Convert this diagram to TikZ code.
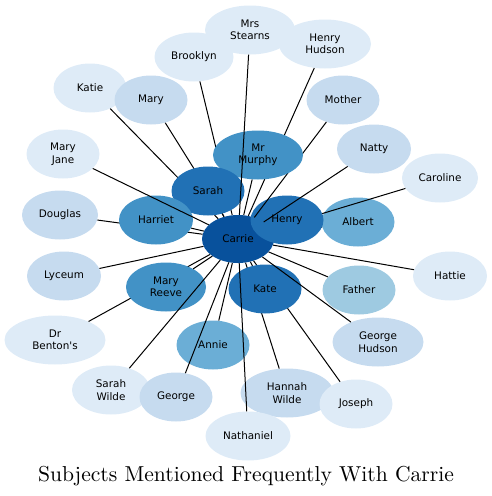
\documentclass[tikz,border=0pt]{standalone}
\usepackage{fontspec}
\newfontfamily\labelfont{DejaVu Sans}
\newfontfamily\titlefont{lmroman10-regular}[Extension=.otf]
\usetikzlibrary{shapes.geometric}

\definecolor{blA}{HTML}{DEEBF7}
\definecolor{blB}{HTML}{C6DBEF}
\definecolor{blC}{HTML}{9ECAE1}
\definecolor{blD}{HTML}{6BAED6}
\definecolor{blE}{HTML}{4292C6}
\definecolor{blF}{HTML}{2171B5}
\definecolor{blG}{HTML}{08519C}

\tikzset{
  subj/.style={ellipse, inner sep=0pt, minimum width=73pt, minimum height=49pt,
    align=center, font=\labelfont\fontsize{10.4}{12.5}\selectfont},
  link/.style={line width=1pt, black},
}

\begin{document}
\begin{tikzpicture}[x=1pt, y=-1pt]
\useasboundingbox (0,0) rectangle (492,496);

% outer ring
\node[subj, fill=blA] (katie) at (90,88) {Katie};
\node[subj, fill=blB] (mary) at (151,100) {Mary};
\node[subj, fill=blA, minimum width=79pt] (brooklyn) at (194,57) {Brooklyn};
\node[subj, fill=blA, minimum width=90pt] (stearns) at (250,30) {Mrs\\Stearns};
\node[subj, fill=blA, minimum width=92pt] (hhudson) at (325,44) {Henry\\Hudson};
\node[subj, fill=blB] (mother) at (343,100) {Mother};
\node[subj, fill=blB, minimum width=74pt] (natty) at (374,149) {Natty};
\node[subj, fill=blA, minimum width=76pt] (caroline) at (440,178) {Caroline};
\node[subj, fill=blA] (maryjane) at (63,154) {Mary\\Jane};
\node[subj, fill=blB, minimum width=76pt] (douglas) at (60,215) {Douglas};
\node[subj, fill=blB, minimum width=74pt] (lyceum) at (64,276) {Lyceum};
\node[subj, fill=blA, minimum width=101pt] (benton) at (55,340) {Dr\\Benton's};
\node[subj, fill=blA, minimum width=78pt] (swilde) at (111,390) {Sarah\\Wilde};
\node[subj, fill=blB] (george) at (176,397) {George};
\node[subj, fill=blB, minimum width=93pt] (hwilde) at (287,393) {Hannah\\Wilde};
\node[subj, fill=blA, minimum width=85pt] (nathaniel) at (248,436) {Nathaniel};
\node[subj, fill=blA] (joseph) at (356,404) {Joseph};
\node[subj, fill=blA, minimum width=74pt] (hattie) at (450,276) {Hattie};
\node[subj, fill=blB, minimum width=91pt] (ghudson) at (378,342) {George\\Hudson};
\node[subj, fill=blC] (father) at (359,290) {Father};
\node[subj, fill=blG, minimum width=72pt, minimum height=48pt] (carrie) at (238,239) {Carrie};

% links hidden behind the inner ring
\foreach \n in {brooklyn, katie, mary, douglas, benton, hwilde, joseph, hhudson}
  \draw[link] (carrie) -- (\n);

\node[subj, fill=blD] (albert) at (358,222) {Albert};
\draw[link] (carrie) -- (albert);
\draw[link] (carrie) -- (caroline);
\node[subj, fill=blF] (henry) at (287,220) {Henry};
\draw[link] (carrie) -- (mother);
\draw[link] (carrie) -- (natty);

% inner ring
\node[subj, fill=blE, minimum width=90pt] (murphy) at (258,155) {Mr\\Murphy};
\node[subj, fill=blF] (sarah) at (208,191) {Sarah};
\node[subj, fill=blE, minimum width=74pt] (harriet) at (156,220) {Harriet};
\node[subj, fill=blE, minimum width=80pt] (mreeve) at (166,287) {Mary\\Reeve};
\node[subj, fill=blD] (annie) at (213,345) {Annie};
\node[subj, fill=blF] (kate) at (265,289) {Kate};

% links on top
\foreach \n in {stearns, maryjane, lyceum, swilde, george, nathaniel, father,
  ghudson, hattie, annie, kate, mreeve, harriet, sarah, murphy}
  \draw[link] (carrie) -- (\n);

\node[anchor=base, font=\titlefont\fontsize{21.6}{26}\selectfont] (title) at (246,481)
  {Subjects Mentioned Frequently With Carrie};
\end{tikzpicture}
\end{document}
